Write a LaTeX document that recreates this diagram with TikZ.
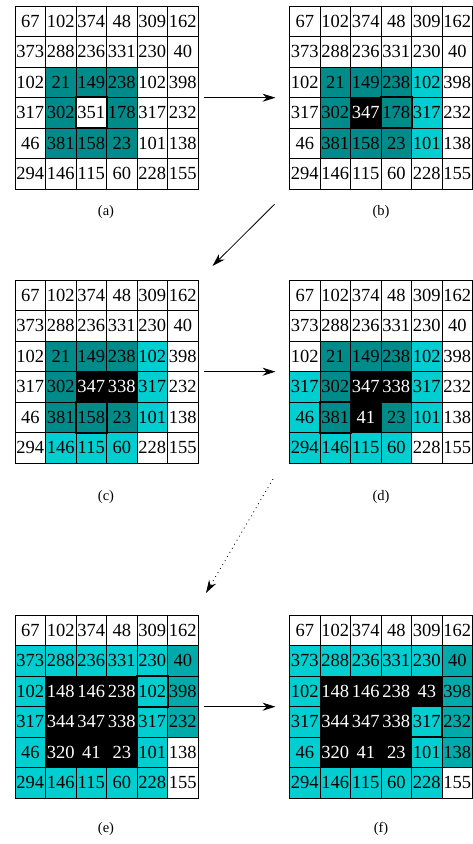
\documentclass[tikz,border=0pt]{standalone}
\usepackage{fontspec}
\setmainfont{Liberation Serif}
\usetikzlibrary{arrows.meta}
\definecolor{tealc}{RGB}{0,139,139}
\definecolor{cyanc}{RGB}{0,206,209}
\definecolor{darkc}{RGB}{0,170,170}
\tikzset{
  cellbox/.style={draw=black,line width=0.8pt,minimum size=30.5pt,inner sep=0pt,
    font=\fontsize{18.5}{18.5}\selectfont},
  wh/.style={fill=white},
  tl/.style={fill=tealc},
  cy/.style={fill=cyanc},
  dc/.style={fill=darkc},
  bk/.style={fill=black,text=white},
  hlbox/.style={draw=black,line width=2pt},
  gridbox/.style={inner sep=0pt,minimum size=183pt,anchor=north west},
  caption/.style={font=\fontsize{14.5}{14.5}\selectfont},
  conn/.style={line width=0.8pt,-{Stealth[length=13pt,width=8pt]}},
}
\newcommand\drawgrid[6]{%
  \node[gridbox] (g#1) at (#2,#3) {};
  \begin{scope}[shift={(#2,#3)}]
  \foreach \v/\s [count=\i from 0] in {#4} {
    \pgfmathtruncatemacro\rr{\i/6}
    \pgfmathtruncatemacro\cc{mod(\i,6)}
    \node[cellbox,\s] (#1-\rr-\cc) at (\cc*30.5+15.25,\rr*30.5+15.25) {\v};
  }
  \end{scope}
  \draw[hlbox] (#1-#5-#6.north west) rectangle (#1-#5-#6.south east);
}
\begin{document}
\begin{tikzpicture}[x=1pt,y=-1pt]
\useasboundingbox (0,0) rectangle (473,844);

\drawgrid{a}{15}{6}{67/wh,102/wh,374/wh,48/wh,309/wh,162/wh,
373/wh,288/wh,236/wh,331/wh,230/wh,40/wh,
102/wh,21/tl,149/tl,238/tl,102/wh,398/wh,
317/wh,302/tl,351/wh,178/tl,317/wh,232/wh,
46/wh,381/tl,158/tl,23/tl,101/wh,138/wh,
294/wh,146/wh,115/wh,60/wh,228/wh,155/wh}{3}{2}

\drawgrid{b}{289.5}{6}{67/wh,102/wh,374/wh,48/wh,309/wh,162/wh,
373/wh,288/wh,236/wh,331/wh,230/wh,40/wh,
102/wh,21/tl,149/tl,238/tl,102/cy,398/wh,
317/wh,302/tl,347/bk,178/tl,317/cy,232/wh,
46/wh,381/tl,158/tl,23/tl,101/cy,138/wh,
294/wh,146/wh,115/wh,60/wh,228/wh,155/wh}{3}{3}

\drawgrid{c}{15}{280}{67/wh,102/wh,374/wh,48/wh,309/wh,162/wh,
373/wh,288/wh,236/wh,331/wh,230/wh,40/wh,
102/wh,21/tl,149/tl,238/tl,102/cy,398/wh,
317/wh,302/tl,347/bk,338/bk,317/cy,232/wh,
46/wh,381/tl,158/tl,23/tl,101/cy,138/wh,
294/wh,146/cy,115/cy,60/cy,228/wh,155/wh}{4}{2}

\drawgrid{d}{289.5}{280}{67/wh,102/wh,374/wh,48/wh,309/wh,162/wh,
373/wh,288/wh,236/wh,331/wh,230/wh,40/wh,
102/wh,21/tl,149/tl,238/tl,102/cy,398/wh,
317/cy,302/tl,347/bk,338/bk,317/cy,232/wh,
46/cy,381/tl,41/bk,23/tl,101/cy,138/wh,
294/cy,146/cy,115/cy,60/cy,228/wh,155/wh}{4}{1}

\drawgrid{e}{15}{615}{67/wh,102/wh,374/wh,48/wh,309/wh,162/wh,
373/cy,288/cy,236/cy,331/cy,230/cy,40/dc,
102/cy,148/bk,146/bk,238/bk,102/cy,398/dc,
317/cy,344/bk,347/bk,338/bk,317/cy,232/dc,
46/cy,320/bk,41/bk,23/bk,101/cy,138/wh,
294/cy,146/cy,115/cy,60/cy,228/cy,155/wh}{2}{4}

\drawgrid{f}{289.5}{615}{67/wh,102/wh,374/wh,48/wh,309/wh,162/wh,
373/cy,288/cy,236/cy,331/cy,230/cy,40/dc,
102/cy,148/bk,146/bk,238/bk,43/bk,398/dc,
317/cy,344/bk,347/bk,338/bk,317/cy,232/dc,
46/cy,320/bk,41/bk,23/bk,101/cy,138/dc,
294/cy,146/cy,115/cy,60/cy,228/cy,155/wh}{3}{4}

\node[caption] (la) at (106,212) {(a)};
\node[caption] (lb) at (381,212) {(b)};
\node[caption] (lc) at (106,497) {(c)};
\node[caption] (ld) at (381,497) {(d)};
\node[caption] (le) at (106,829) {(e)};
\node[caption] (lf) at (381,829) {(f)};

\draw[conn,shorten <=6pt,shorten >=14pt] (ga.east) -- (gb.west);
\draw[conn,shorten <=6pt,shorten >=14pt] (gc.east) -- (gd.west);
\draw[conn,shorten <=6pt,shorten >=14pt] (ge.east) -- (gf.west);
\draw[conn,shorten <=21pt,shorten >=20pt] (gb.south west) -- (gc.north east);
\coordinate (d1) at (273,479);
\coordinate (e1) at (206,593);
\draw[conn,dash pattern=on 0.9pt off 3.8pt] (d1) -- (e1);
\end{tikzpicture}
\end{document}
